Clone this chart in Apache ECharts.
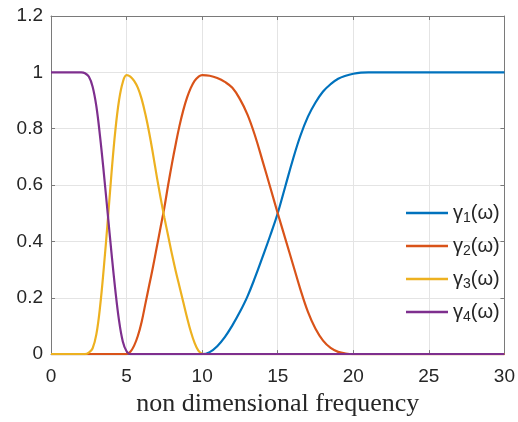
<!DOCTYPE html>
<html>
<head>
<meta charset="utf-8">
<script src="https://cdn.jsdelivr.net/npm/echarts@6/dist/echarts.min.js"></script>
<style>
  html, body { margin: 0; padding: 0; background: #fff; }
  #container { width: 518px; height: 422px; }
</style>
</head>
<body>
<div id="container"></div>
<script>
// values
var freq1 = [0, 10, 10.5, 11, 11.5, 12, 12.5, 13, 13.5, 14, 14.5, 15, 15.5, 16, 16.5, 17, 17.5, 18, 18.5, 19, 19.5, 20, 20.5, 21, 30];
var gamma1 = [0, 0, 0.007, 0.028, 0.06, 0.102, 0.15, 0.205, 0.272, 0.345, 0.42, 0.5, 0.595, 0.69, 0.775, 0.843, 0.893, 0.932, 0.958, 0.977, 0.988, 0.995, 0.999, 1, 1];

var freq2 = [0, 5, 5.25, 5.5, 5.75, 6, 6.25, 6.5, 6.75, 7, 7.25, 7.5, 7.75, 8, 8.25, 8.5, 8.75, 9, 9.25, 9.5, 9.75, 10,
  10.5, 11, 11.5, 12, 12.5, 13, 13.5, 14, 14.5, 15, 15.5, 16, 16.5, 17, 17.5, 18, 18.5, 19, 19.5, 20, 30];
var gamma2 = [0, 0, 0.008, 0.03, 0.065, 0.115, 0.18, 0.245, 0.31, 0.38, 0.45, 0.52, 0.6, 0.675, 0.745, 0.81, 0.865, 0.91, 0.945, 0.97, 0.984, 0.99,
  0.988, 0.98, 0.966, 0.945, 0.905, 0.85, 0.775, 0.685, 0.593, 0.5, 0.41, 0.32, 0.23, 0.15, 0.09, 0.048, 0.022, 0.008, 0.002, 0, 0];

var freq3 = [0, 2.25, 2.5, 2.75, 3, 3.25, 3.5, 3.75, 4, 4.25, 4.5, 4.75, 5, 5.25, 5.5, 5.75, 6, 6.25, 6.5, 6.75, 7, 7.25,
  7.5, 7.75, 8, 8.25, 8.5, 8.75, 9, 9.25, 9.5, 9.75, 10, 10.25, 30];
var gamma3 = [0, 0, 0.005, 0.02, 0.07, 0.17, 0.31, 0.47, 0.64, 0.79, 0.9, 0.965, 0.99, 0.985, 0.97, 0.945, 0.905, 0.85, 0.785, 0.71, 0.63, 0.555,
  0.485, 0.42, 0.355, 0.295, 0.24, 0.185, 0.13, 0.08, 0.04, 0.012, 0.001, 0, 0];

var freq4 = [0, 2, 2.25, 2.5, 2.75, 3, 3.25, 3.5, 3.75, 4, 4.25, 4.5, 4.75, 5, 5.25, 30];
var gamma4 = [1, 1, 0.997, 0.985, 0.95, 0.88, 0.77, 0.64, 0.5, 0.36, 0.23, 0.12, 0.045, 0.01, 0, 0];

var names = ['1', '2', '3', '4'];
var colors = ['#0072BD', '#D95319', '#EDB120', '#7E2F8E'];

function pairs(xs, ys) {
  return xs.map(function (x, i) { return [x, ys[i]]; });
}

var dom = document.getElementById('container');
var myChart = echarts.init(dom, null, { renderer: 'canvas' });

var axisColor = '#7a7a7a';
var labelFont = { color: '#262626', fontFamily: 'Liberation Sans', fontSize: 19 };

function xAxisDef(pos, showLabel) {
  return {
    type: 'value', position: pos, min: 0, max: 30, interval: 5,
    axisLine: { show: true, onZero: false, lineStyle: { color: axisColor, width: 1 } },
    axisTick: { show: true, inside: true, length: 4, lineStyle: { color: axisColor } },
    axisLabel: Object.assign({ show: showLabel, margin: 13 }, labelFont),
    splitLine: { show: showLabel, lineStyle: { color: '#e4e4e4', width: 1 } },
    name: showLabel ? 'non dimensional frequency' : '',
    nameLocation: 'middle', nameGap: 35,
    nameTextStyle: { color: '#262626', fontFamily: 'Liberation Serif', fontSize: 26 }
  };
}
function yAxisDef(pos, showLabel) {
  return {
    type: 'value', position: pos, min: 0, max: 1.2, interval: 0.2,
    axisLine: { show: true, onZero: false, lineStyle: { color: axisColor, width: 1 } },
    axisTick: { show: true, inside: true, length: 4, lineStyle: { color: axisColor } },
    axisLabel: Object.assign({ show: showLabel, margin: 8 }, labelFont),
    splitLine: { show: showLabel, lineStyle: { color: '#e4e4e4', width: 1 } }
  };
}

var series = [pairs(freq1, gamma1), pairs(freq2, gamma2), pairs(freq3, gamma3), pairs(freq4, gamma4)].map(function (d, i) {
  return {
    name: names[i], type: 'line', data: d, symbol: 'none', smooth: 0.4,
    lineStyle: { color: colors[i], width: 2.2 }, itemStyle: { color: colors[i] },
    z: 2 + i
  };
});

var option = {
  animation: false,
  grid: { left: 51, right: 13, top: 16, bottom: 65, containLabel: false },
  xAxis: [xAxisDef('bottom', true), xAxisDef('top', false)],
  yAxis: [yAxisDef('left', true), yAxisDef('right', false)],
  legend: {
    orient: 'vertical', left: 406, top: 203, padding: 0,
    itemWidth: 42, itemHeight: 2.3, itemGap: 11,
    icon: 'rect', selectedMode: false,
    formatter: function (n) {
      return '{g|γ}{s|' + n + '}{g|(ω)}';
    },
    textStyle: {
      rich: {
        g: { fontFamily: 'Liberation Sans', fontSize: 20, color: '#262626', lineHeight: 24 },
        s: { fontFamily: 'Liberation Sans', fontSize: 14, color: '#262626', lineHeight: 10, verticalAlign: 'bottom' }
      }
    },
    data: names.map(function (n, i) { return { name: n, itemStyle: { color: colors[i] } }; })
  },
  series: series
};

myChart.setOption(option);
window.addEventListener('resize', myChart.resize);
</script>
</body>
</html>
